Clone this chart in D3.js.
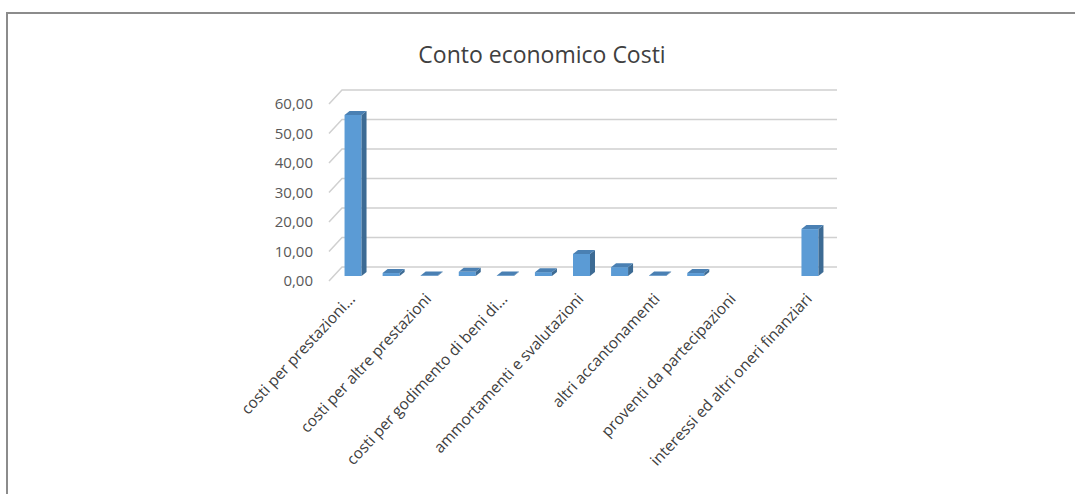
<!DOCTYPE html>
<html>
<head>
<meta charset="utf-8">
<script src="https://cdn.jsdelivr.net/npm/d3@7"></script>
<style>
  body { margin: 0; background: #fff; }
  text { font-family: "Open Sans", sans-serif; }
</style>
</head>
<body>
<svg width="1075" height="494"></svg>
<script>
const categories = [
  'costi per prestazioni di servizi',
  'costi per materie prime',
  'costi per altre prestazioni',
  'costi per servizi',
  'costi per godimento di beni di terzi',
  'costi per il personale',
  'ammortamenti e svalutazioni',
  'accantonamenti per rischi',
  'altri accantonamenti',
  'oneri diversi di gestione',
  'proventi da partecipazioni',
  'altri proventi finanziari',
  'interessi ed altri oneri finanziari'
];
const values = [54.6, 1.0, 0.2, 1.4, 0.2, 1.3, 7.5, 3.0, 0.2, 1.0, 0, 0, 15.9];
const yTicks = [0, 10, 20, 30, 40, 50, 60];
const title = 'Conto economico  Costi';

const svg = d3.select('svg');

// frame
svg.append('path')
    .attr('d', 'M7,494 L7,13 L1075,13')
    .attr('fill', 'none')
    .attr('stroke', '#8c8c8c')
    .attr('stroke-width', 2);

svg.append('text')
    .attr('x', 542)
    .attr('y', 63)
    .attr('text-anchor', 'middle')
    .attr('font-size', 23)
    .attr('fill', '#404040')
    .text(title);

// back wall scales
const x = d3.scaleBand()
    .domain(d3.range(categories.length))
    .range([342, 837]);
const y = d3.scaleLinear()
    .domain([0, 60])
    .range([267, 90]);

const depthX = -13, depthY = 14;   // front plane offset of the walls
const barX = -8, barY = 9;         // front face of the bars
const sideX = 5, sideY = -4;       // bar depth
const barW = 17;

svg.append('g')
  .selectAll('path')
  .data(yTicks)
  .enter().append('path')
    .attr('d', d => `M${342 + depthX},${y(d) + depthY} L342,${y(d)} L837,${y(d)}`)
    .attr('fill', 'none')
    .attr('stroke', '#d0d0d0')
    .attr('stroke-width', 1.5);

svg.append('g')
  .selectAll('text')
  .data(yTicks)
  .enter().append('text')
    .attr('x', 313)
    .attr('y', d => y(d) + depthY)
    .attr('dy', '0.35em')
    .attr('text-anchor', 'end')
    .attr('font-size', 15)
    .attr('fill', '#595959')
    .text(d => d3.format('.2f')(d).replace('.', ','));

const bars = svg.append('g')
  .selectAll('g')
  .data(values.map((v, i) => ({v, i})).filter(d => d.v > 0))
  .enter().append('g');

function geom(d) {
  const x0 = x(d.i) + (x.bandwidth() - barW) / 2 + barX;
  const top = y(d.v) + barY, bot = y(0) + barY;
  return {x0, x1: x0 + barW, top, bot};
}

bars.append('rect')
    .attr('x', d => geom(d).x0)
    .attr('y', d => geom(d).top)
    .attr('width', barW)
    .attr('height', d => geom(d).bot - geom(d).top)
    .attr('fill', '#5b9bd5');

bars.append('path')
    .attr('d', d => {
      const g = geom(d);
      return `M${g.x1},${g.top} L${g.x1 + sideX},${g.top + sideY} L${g.x1 + sideX},${g.bot + sideY} L${g.x1},${g.bot} Z`;
    })
    .attr('fill', '#3d6b94');

bars.append('path')
    .attr('d', d => {
      const g = geom(d);
      return `M${g.x0},${g.top} L${g.x0 + sideX},${g.top + sideY} L${g.x1 + sideX},${g.top + sideY} L${g.x1},${g.top} Z`;
    })
    .attr('fill', '#4a80b3');

// category labels, every other one like Excel does; long ones get cut
const shown = {0: 'costi per prestazioni...', 4: 'costi per godimento di beni di...'};

svg.append('g')
  .selectAll('text')
  .data(categories.map((c, i) => ({c, i})).filter(d => d.i % 2 === 0))
  .enter().append('text')
    .attr('transform', d => `translate(${x(d.i) + x.bandwidth() / 2 + barX - 1},${296}) rotate(-47)`)
    .attr('text-anchor', 'end')
    .attr('dy', '0.35em')
    .attr('font-size', 15.5)
    .attr('fill', '#404040')
    .text(d => shown[d.i] || d.c);
</script>
</body>
</html>
